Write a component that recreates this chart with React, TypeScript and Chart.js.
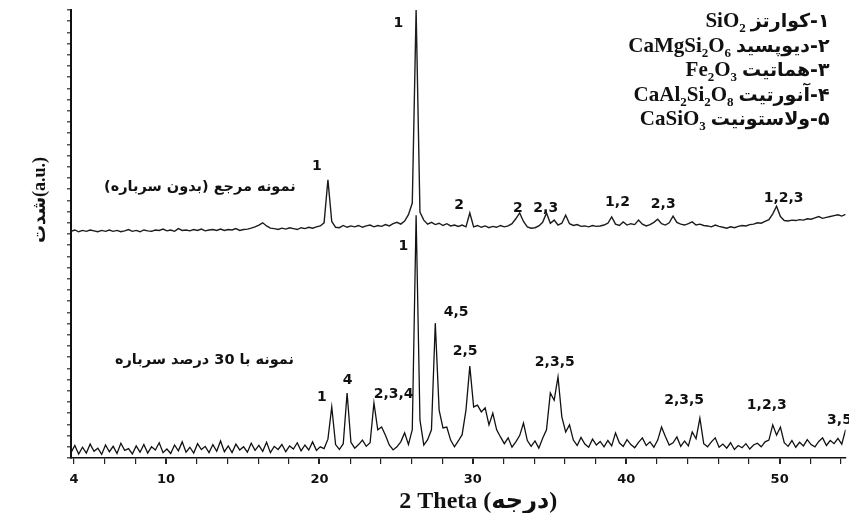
import React, { useEffect, useRef } from 'react';
import { Chart, registerables } from 'chart.js';

Chart.register(...registerables);

// 2θ scan: start angle and step (degrees)
const SCAN_START = 3.8;
const SCAN_STEP = 0.25;

// Reference sample (no slag) — offset trace, intensity (a.u.)
const referenceSample = [
  50.6, 50.9, 50.5, 50.8, 50.6, 50.9, 50.7, 50.5, 50.8, 50.6,
  50.9, 50.6, 50.8, 50.5, 50.7, 51.0, 50.6, 50.8, 50.5, 50.9,
  50.7, 50.6, 50.9, 50.8, 51.1, 50.7, 50.9, 50.6, 51.2, 50.8,
  50.9, 50.7, 51.0, 50.8, 51.1, 50.7, 50.9, 51.0, 50.8, 51.1,
  50.8, 51.0, 50.9, 51.2, 50.8, 51.0, 51.1, 51.3, 51.6, 52.0,
  52.5, 51.8, 51.3, 51.2, 51.0, 51.3, 51.1, 51.4, 51.2, 51.0,
  51.4, 51.2, 51.5, 51.3, 51.6, 51.8, 52.5, 62.1, 52.8, 51.5,
  51.4, 51.9, 51.5, 51.8, 51.6, 51.9, 51.5, 51.8, 52.0, 51.6,
  51.9, 51.7, 52.1, 51.8, 52.3, 52.6, 52.2, 52.9, 54.3, 56.9,
  100, 54.9, 53.1, 52.2, 52.6, 52.1, 52.4, 51.9, 52.3, 51.8,
  52.0, 51.7, 52.0, 51.6, 54.7, 51.6, 51.9, 51.5, 51.8, 51.4,
  51.7, 51.5, 51.9, 51.6, 51.8, 52.3, 53.4, 54.7, 52.8, 51.6,
  51.3, 51.4, 51.8, 52.6, 54.7, 52.4, 53.1, 52.0, 52.4, 54.2,
  52.3, 51.9, 52.1, 51.7, 51.8, 51.6, 51.9, 51.7, 51.8, 52.0,
  52.4, 53.8, 52.2, 51.9, 52.7, 52.0, 52.3, 52.1, 53.1, 52.2,
  51.8, 52.1, 52.6, 53.3, 52.3, 52.0, 52.5, 54.0, 52.6, 52.2,
  52.0, 52.3, 52.7, 52.0, 52.2, 51.9, 51.8, 51.6, 52.0, 51.7,
  51.5, 51.3, 51.6, 51.4, 51.7, 51.9, 51.8, 52.1, 52.2, 52.5,
  52.4, 52.8, 53.2, 54.5, 56.2, 53.9, 53.0, 52.9, 53.1, 53.0,
  53.2, 53.1, 53.4, 53.3, 53.6, 53.9, 53.5, 53.7, 53.9, 54.1,
  54.3, 54.0, 54.4,
];

// Sample with 30% slag, intensity (a.u.)
const slagSample = [
  1.2, 2.8, 0.9, 2.4, 1.1, 3.1, 1.5, 2.2, 0.8, 2.9,
  1.4, 2.6, 1.0, 3.3, 1.7, 2.1, 0.9, 2.7, 1.3, 3.0,
  1.1, 2.5, 1.8, 3.4, 1.2, 2.0, 1.0, 2.9, 1.6, 3.6,
  1.3, 2.4, 1.1, 3.2, 1.9, 2.6, 1.2, 3.0, 1.5, 3.8,
  1.4, 2.7, 1.2, 3.1, 1.8, 2.5, 1.3, 3.3, 1.7, 2.8,
  1.5, 3.5, 1.2, 2.6, 1.9, 3.0, 1.4, 2.7, 2.0, 3.4,
  1.6, 2.9, 1.8, 3.6, 1.7, 2.5, 2.1, 4.2, 11.4, 3.0,
  1.9, 3.2, 14.5, 3.5, 2.2, 3.0, 4.0, 2.6, 3.4, 12.3,
  6.3, 6.9, 5.1, 2.9, 1.8, 2.5, 3.6, 5.6, 3.0, 6.3,
  54.2, 8.5, 2.9, 4.1, 6.3, 30.1, 10.7, 6.7, 6.9, 4.0,
  2.5, 3.8, 5.2, 10.7, 20.5, 11.4, 11.8, 10.3, 11.2, 7.4,
  10.0, 6.3, 4.7, 3.2, 4.5, 2.4, 3.6, 5.0, 7.8, 3.9,
  2.6, 3.8, 2.2, 4.4, 6.3, 14.5, 12.9, 18.1, 9.2, 5.8,
  7.4, 4.0, 2.8, 4.6, 3.1, 2.4, 4.2, 2.9, 3.7, 2.5,
  3.9, 2.7, 5.6, 3.4, 2.6, 4.1, 3.0, 2.3, 3.5, 4.5,
  2.8, 3.6, 2.4, 4.0, 6.9, 4.8, 2.9, 3.4, 4.7, 2.6,
  3.8, 2.7, 5.8, 4.3, 8.9, 3.2, 2.5, 3.6, 4.5, 2.4,
  3.1, 2.2, 3.4, 1.9, 2.8, 2.3, 3.2, 2.0, 2.9, 3.3,
  2.5, 3.6, 4.0, 7.4, 5.1, 6.9, 3.4, 2.6, 3.9, 2.4,
  3.5, 2.7, 4.1, 3.0, 2.5, 3.7, 4.5, 2.8, 3.9, 3.2,
  4.4, 3.1, 6.3,
];

// x-axis ticks
const xTickValues = [4, 6, 8, 10, 12, 14, 16, 18, 20, 22, 24, 26, 28, 30, 32, 34, 36, 38, 40, 42, 44, 46, 48, 50, 52, 54];
const xLabelledTicks = [4, 10, 20, 30, 40, 50];
const xMajorTicks = [10, 20, 30, 40, 50];
const yTickValues = [0, 2.5, 5, 7.5, 10, 12.5, 15, 17.5, 20, 22.5, 25, 27.5, 30, 32.5, 35, 37.5, 40, 42.5, 45, 47.5, 50, 52.5, 55, 57.5, 60, 62.5, 65, 67.5, 70, 72.5, 75, 77.5, 80, 82.5, 85, 87.5, 90, 92.5, 95, 97.5, 100];

// phase legend
const phaseNames = ['۱-کوارتز', '۲-دیوپسید', '۳-هماتیت', '۴-آنورتیت', '۵-ولاستونیت'];
const phaseFormulas = ['SiO2', 'CaMgSi2O6', 'Fe2O3', 'CaAl2Si2O8', 'CaSiO3'];

// peak identification labels (2θ, intensity)
const peakLabels = ['1', '1', '2', '2', '2,3', '1,2', '2,3', '1,2,3', '1', '4,5', '2,5', '1', '4', '2,3,4', '2,3,5', '2,3,5', '1,2,3', '3,5'];
const peakLabelX = [19.83, 25.15, 29.11, 32.94, 34.75, 39.43, 42.41, 50.26, 25.47, 28.91, 29.5, 20.15, 21.84, 24.83, 35.34, 43.77, 49.16, 53.9];
const peakLabelY = [65.0, 97.1, 56.5, 55.8, 55.8, 57.1, 56.7, 58.0, 47.3, 32.4, 23.7, 13.6, 17.4, 14.1, 21.4, 12.9, 11.8, 8.5];

// sample names
const sampleNames = ['نمونه مرجع (بدون سرباره)', 'نمونه با 30 درصد سرباره'];
const sampleNameX = [12.2, 12.5];
const sampleNameY = [60.5, 21.9];

const xTitle = '2 Theta (درجه)';
const yTitle = 'شدت(a.u.)';

const toPoints = (vals: number[]) => vals.map((v, i) => ({ x: SCAN_START + i * SCAN_STEP, y: v }));

const drawFormula = (ctx: CanvasRenderingContext2D, f: string, rightX: number, y: number, size: number) => {
  const mainFont = `bold ${size}px "Liberation Serif", "DejaVu Serif", serif`;
  const subFont = `bold ${Math.round(size * 0.62)}px "Liberation Serif", "DejaVu Serif", serif`;
  const parts = f.split('').map((c) => ({ c, sub: /\d/.test(c) }));
  let w = 0;
  parts.forEach((p) => {
    ctx.font = p.sub ? subFont : mainFont;
    w += ctx.measureText(p.c).width;
  });
  let xx = rightX - w;
  ctx.textAlign = 'left';
  ctx.direction = 'ltr';
  parts.forEach((p) => {
    ctx.font = p.sub ? subFont : mainFont;
    ctx.fillText(p.c, xx, p.sub ? y + size * 0.25 : y);
    xx += ctx.measureText(p.c).width;
  });
};

const textPlugin = {
  id: 'xrdText',
  afterDraw(chart: any) {
    const { ctx, chartArea } = chart;
    const xs = chart.scales.x;
    const ys = chart.scales.y;
    ctx.save();
    ctx.fillStyle = '#111';

    // peak labels
    ctx.font = 'bold 14px "DejaVu Sans", sans-serif';
    ctx.textAlign = 'center';
    ctx.textBaseline = 'middle';
    ctx.direction = 'ltr';
    peakLabels.forEach((t, i) => {
      ctx.fillText(t, xs.getPixelForValue(peakLabelX[i]), ys.getPixelForValue(peakLabelY[i]));
    });

    // sample names
    ctx.font = 'bold 14.5px "DejaVu Sans", sans-serif';
    ctx.direction = 'rtl';
    sampleNames.forEach((t, i) => {
      ctx.fillText(t, xs.getPixelForValue(sampleNameX[i]), ys.getPixelForValue(sampleNameY[i]));
    });

    // phase legend (top right)
    ctx.textBaseline = 'alphabetic';
    const right = chartArea.right - 16;
    phaseNames.forEach((name, i) => {
      const base = chartArea.top + 17 + i * 24.5;
      ctx.font = 'bold 19px "DejaVu Sans", sans-serif';
      ctx.direction = 'rtl';
      ctx.textAlign = 'right';
      ctx.fillText(name, right, base);
      const w = ctx.measureText(name).width;
      drawFormula(ctx, phaseFormulas[i], right - w - 5, base, 21);
    });

    // x title
    ctx.direction = 'ltr';
    ctx.textAlign = 'center';
    ctx.textBaseline = 'middle';
    ctx.font = 'bold 24px "Liberation Serif", "DejaVu Sans", serif';
    ctx.fillText(xTitle, (chartArea.left + chartArea.right) / 2 + 20, chart.height - 11);

    // y title
    ctx.save();
    ctx.translate(40, chartArea.top + 190);
    ctx.rotate(-Math.PI / 2);
    ctx.font = 'bold 18px "Liberation Serif", "DejaVu Sans", serif';
    ctx.direction = 'ltr';
    ctx.fillText(yTitle, 0, 0);
    ctx.restore();

    ctx.restore();
  },
};

export default function App() {
  const ref = useRef<HTMLCanvasElement>(null);
  useEffect(() => {
    const chart = new Chart(ref.current as HTMLCanvasElement, {
      type: 'line',
      data: {
        datasets: [
          { data: toPoints(referenceSample), borderColor: '#1c1c1c', borderWidth: 1.4, pointRadius: 0, tension: 0, fill: false },
          { data: toPoints(slagSample), borderColor: '#111', borderWidth: 1.3, pointRadius: 0, tension: 0, fill: false },
        ],
      },
      options: {
        responsive: false,
        animation: false,
        devicePixelRatio: 1,
        layout: { padding: { top: 10, left: 0, right: 0, bottom: 0 } },
        plugins: { legend: { display: false }, tooltip: { enabled: false }, title: { display: false } },
        scales: {
          x: {
            type: 'linear',
            min: 3.8,
            max: 54.3,
            position: 'bottom',
            afterBuildTicks: (s: any) => {
              s.ticks = xTickValues.map((v) => ({ value: v }));
            },
            afterFit: (s: any) => {
              s.height = 55;
            },
            grid: {
              drawOnChartArea: false,
              drawTicks: true,
              tickLength: 6,
              color: '#222',
              lineWidth: (c: any) => (c.tick && xMajorTicks.includes(c.tick.value) ? 2 : 1.2),
            },
            border: { display: true, color: '#111', width: 1.5 },
            ticks: {
              autoSkip: false,
              maxRotation: 0,
              padding: 8,
              color: '#111',
              font: { family: '"DejaVu Sans", sans-serif', weight: 'bold', size: 13 },
              callback: (v: any) => (xLabelledTicks.includes(Number(v)) ? String(v) : ''),
            },
          },
          y: {
            type: 'linear',
            min: 0,
            max: 100,
            afterBuildTicks: (s: any) => {
              s.ticks = yTickValues.map((v) => ({ value: v }));
            },
            afterFit: (s: any) => {
              s.width = 71;
            },
            grid: { drawOnChartArea: false, drawTicks: true, tickLength: 4, color: '#555', lineWidth: 1.5 },
            border: { display: true, color: '#111', width: 2 },
            ticks: { display: false },
          },
        },
      } as any,
      plugins: [textPlugin],
    });
    return () => chart.destroy();
  }, []);
  return (
    <div style={{ position: 'absolute', left: 0, top: 0, width: 849, height: 513, background: '#fff' }}>
      <canvas ref={ref} width={849} height={513} style={{ display: 'block', width: 849, height: 513 }} />
    </div>
  );
}
